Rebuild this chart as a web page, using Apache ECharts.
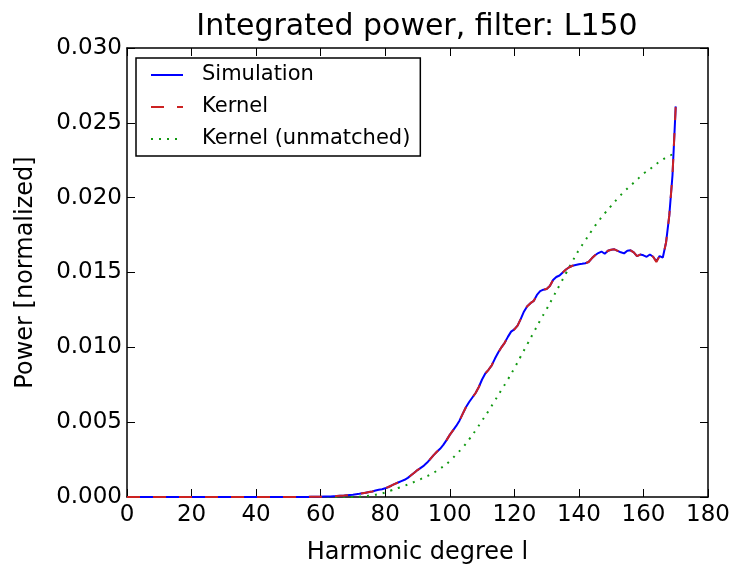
<!DOCTYPE html>
<html>
<head>
<meta charset="utf-8">
<script src="https://cdn.jsdelivr.net/npm/echarts@6/dist/echarts.min.js"></script>
<style>
html,body{margin:0;padding:0;background:#fff;}
#chart{width:745px;height:580px;}
</style>
</head>
<body>
<div id="chart"></div>
<script>
// Harmonic degrees 0..170 (simulation / kernel)
var degrees = [];
for (var d = 0; d <= 170; d++) degrees.push(d);

// Simulation values (x1e-3), degrees 0..170
var simulation = [
  0,0,0,0,0,0,0,0,0,0,
  0,0,0,0,0,0,0,0,0,0,
  0,0,0,0,0,0,0,0,0,0,
  0,0,0,0,0,0,0,0,0,0,
  0,0,0,0,0,0,0,0,0,0,
  0,0,0,0,0,0.005,0.008,0.01,0.012,0.015,
  0.02,0.03,0.03,0.04,0.05,0.06,0.08,0.09,0.11,0.13,
  0.15,0.18,0.21,0.25,0.29,0.33,0.37,0.43,0.48,0.52,
  0.58,0.67,0.77,0.88,0.97,1.06,1.15,1.28,1.45,1.62,
  1.80,1.95,2.10,2.30,2.55,2.80,3.02,3.22,3.48,3.80,
  4.15,4.45,4.75,5.10,5.55,6.00,6.35,6.65,6.95,7.35,
  7.85,8.25,8.50,8.80,9.25,9.65,10.00,10.30,10.70,11.05,
  11.20,11.45,11.90,12.40,12.75,12.95,13.10,13.50,13.75,13.85,
  13.90,14.10,14.50,14.70,14.80,15.00,15.20,15.35,15.45,15.50,
  15.55,15.58,15.62,15.70,15.95,16.15,16.30,16.40,16.25,16.45,
  16.52,16.55,16.45,16.35,16.28,16.45,16.48,16.35,16.10,16.20,
  16.15,16.05,16.20,16.05,15.75,16.10,16.00,17.00,18.80,21.50,
  26.10
];

// Kernel values (x1e-3), degrees 0..170
var kernel = [
  0,0,0,0,0,0,0,0,0,0,
  0,0,0,0,0,0,0,0,0,0,
  0,0,0,0,0,0,0,0,0,0,
  0,0,0,0,0,0,0,0,0,0,
  0,0,0,0,0,0,0,0,0,0,
  0,0,0,0,0,0.005,0.008,0.01,0.012,0.015,
  0.02,0.03,0.03,0.04,0.05,0.06,0.08,0.09,0.11,0.13,
  0.15,0.18,0.21,0.25,0.29,0.33,0.37,0.43,0.48,0.52,
  0.58,0.67,0.77,0.88,0.97,1.06,1.15,1.28,1.45,1.62,
  1.80,1.95,2.10,2.30,2.55,2.80,3.02,3.22,3.48,3.80,
  4.15,4.45,4.75,5.10,5.55,6.00,6.35,6.65,6.95,7.35,
  7.85,8.25,8.50,8.80,9.25,9.65,10.00,10.30,10.70,11.05,
  11.20,11.45,11.90,12.40,12.75,12.95,13.10,13.50,13.75,13.85,
  13.90,14.10,14.50,14.70,14.80,15.00,15.20,15.35,15.45,15.50,
  15.55,15.58,15.62,15.70,15.95,16.15,16.30,16.40,16.25,16.45,
  16.52,16.55,16.45,16.35,16.28,16.45,16.48,16.35,16.10,16.20,
  16.15,16.05,16.20,16.05,15.70,16.10,16.00,17.00,18.80,21.50,
  26.10
];

// Kernel (unmatched): degrees and values (x1e-3)
var unmatchedDegrees = [
  0,10,20,30,40,50,60,66,70,72,74,76,78,80,82,84,86,88,90,92,94,96,98,
  100,102,104,106,108,110,112,114,116,118,120,122,124,126,128,130,
  132,134,136,138,140,142,144,146,148,150,152,154,156,158,160,
  162,164,166,168,170
];
var unmatched = [
  0,0,0,0,0,0,0,0,0.005,0.02,0.06,0.12,0.20,0.30,0.45,0.60,0.75,0.92,1.10,1.30,1.50,1.75,2.05,
  2.40,2.85,3.30,3.85,4.45,5.10,5.75,6.45,7.15,7.85,8.60,9.40,10.20,11.00,11.80,12.55,
  13.35,14.15,14.95,15.75,16.50,17.15,17.80,18.40,18.95,19.45,19.95,20.40,20.80,21.20,21.60,
  21.90,22.25,22.55,22.80,22.95
];

var xTicks = [0,20,40,60,80,100,120,140,160,180];
var yTicks = ['0.000','0.005','0.010','0.015','0.020','0.025','0.030'];

function pairs(xs, ys) {
  var out = [];
  for (var i = 0; i < xs.length; i++) out.push([xs[i], ys[i] / 1000]);
  return out;
}

var FONT = 'DejaVu Sans';
var chart = echarts.init(document.getElementById('chart'));

var axisCommon = {
  axisLine: { show: true, onZero: false, lineStyle: { color: '#000', width: 1.5 } },
  axisTick: { show: true, inside: true, length: 8, lineStyle: { color: '#000', width: 1 } },
  splitLine: { show: false }
};

chart.setOption({
  animation: false,
  backgroundColor: '#fff',
  title: {
    text: 'Integrated power, filter: L150',
    left: 412, top: 7, textAlign: 'center',
    textStyle: { fontFamily: FONT, fontSize: 30, fontWeight: 'normal', color: '#000' }
  },
  grid: { left: 127, right: 37, top: 48, bottom: 83, containLabel: false },
  legend: {
    orient: 'vertical',
    left: 136, top: 58,
    padding: [6, 10, 6, 14],
    itemGap: 10,
    itemWidth: 32, itemHeight: 22,
    borderColor: '#000', borderWidth: 1.5,
    backgroundColor: '#fff',
    itemStyle: { opacity: 0 },
    textStyle: { fontFamily: FONT, fontSize: 21, color: '#000', lineHeight: 22, padding: [0, 0, 0, 14] },
    data: ['Simulation', 'Kernel', 'Kernel (unmatched)']
  },
  xAxis: [
    Object.assign({
      type: 'value', min: 0, max: 180, interval: 20, position: 'bottom',
      name: 'Harmonic degree l', nameLocation: 'middle', nameGap: 44,
      nameTextStyle: { fontFamily: FONT, fontSize: 24, color: '#000' },
      axisLabel: { fontFamily: FONT, fontSize: 23, color: '#000', margin: 7,
        formatter: function (v) { return xTicks.indexOf(v) >= 0 ? String(v) : ''; } }
    }, axisCommon),
    Object.assign({
      type: 'value', min: 0, max: 180, interval: 20, position: 'top',
      axisLabel: { show: false }
    }, axisCommon)
  ],
  yAxis: [
    Object.assign({
      type: 'value', min: 0, max: 0.03, interval: 0.005, position: 'left',
      name: 'Power [normalized]', nameLocation: 'middle', nameGap: 89, nameRotate: 90,
      nameTextStyle: { fontFamily: FONT, fontSize: 24, color: '#000' },
      axisLabel: { fontFamily: FONT, fontSize: 23, color: '#000', margin: 5,
        formatter: function (v) { return yTicks[Math.round(v / 0.005)]; } }
    }, axisCommon),
    Object.assign({
      type: 'value', min: 0, max: 0.03, interval: 0.005, position: 'right',
      axisLabel: { show: false }
    }, axisCommon)
  ],
  series: [
    {
      name: 'Simulation', type: 'line', xAxisIndex: 0, yAxisIndex: 0,
      data: pairs(degrees, simulation), symbol: 'none', smooth: false,
      lineStyle: { color: '#0000ff', width: 2 }, itemStyle: { color: '#0000ff' }, z: 2
    },
    {
      name: 'Kernel', type: 'line', xAxisIndex: 0, yAxisIndex: 0,
      data: pairs(degrees, kernel), symbol: 'none', smooth: false,
      lineStyle: { color: '#cc2222', width: 2, type: [13, 13] }, itemStyle: { color: '#cc2222' }, z: 3
    },
    {
      name: 'Kernel (unmatched)', type: 'line', xAxisIndex: 0, yAxisIndex: 0,
      data: pairs(unmatchedDegrees, unmatched), symbol: 'none', smooth: true,
      lineStyle: { color: '#119911', width: 2, type: [2, 6] }, itemStyle: { color: '#119911' }, z: 1
    }
  ]
});
</script>
</body>
</html>
